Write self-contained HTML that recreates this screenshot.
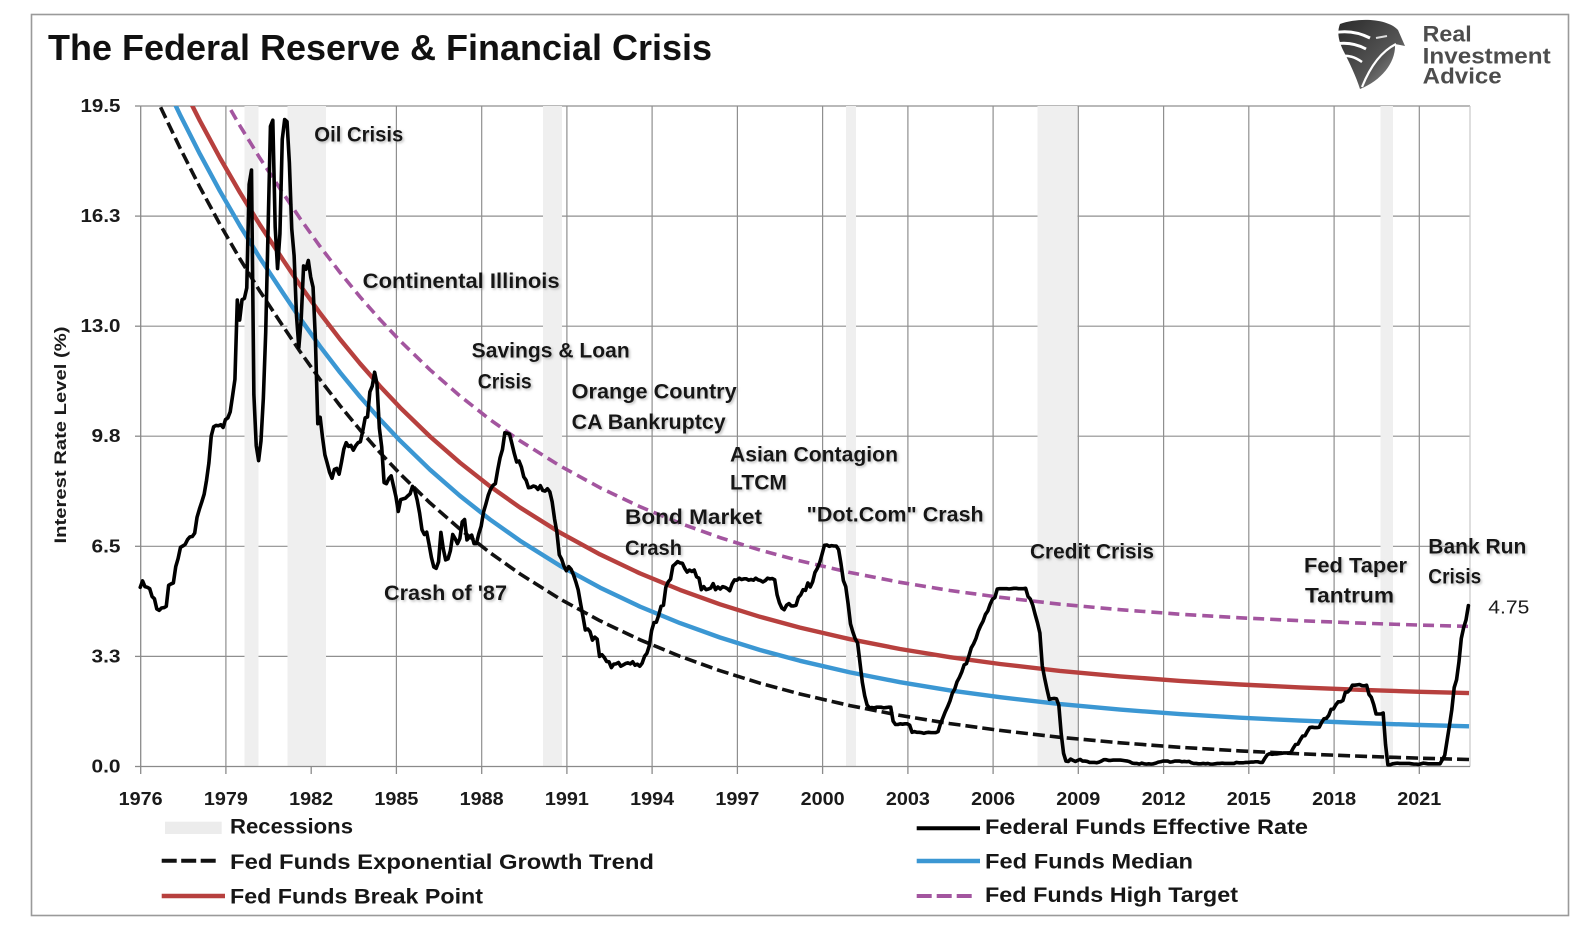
<!DOCTYPE html>
<html>
<head>
<meta charset="utf-8">
<style>
  html,body{margin:0;padding:0;background:#fff;}
  svg{display:block;}
  text{font-family:"Liberation Sans", Arial, sans-serif;}
  .ann{font-size:21px;font-weight:bold;fill:#161616;}
  .leg{font-size:21px;font-weight:bold;fill:#161616;}
  .yl{font-size:18px;font-weight:bold;fill:#1a1a1a;}
  .xl{font-size:18px;font-weight:bold;fill:#1a1a1a;}
</style>
</head>
<body>
<svg width="1588" height="940" viewBox="0 0 1588 940" xmlns="http://www.w3.org/2000/svg">
  <defs>
    <clipPath id="pc"><rect x="140.7" y="106" width="1329.3" height="660.5"/></clipPath>
    <path id="cv" d="M140,60.6 L160,106 L180,147.9 L200,187.4 L220,224.4 L240,259 L260,291.4 L283,326.2 L300,351.5 L320,379.5 L340,405.6 L360,429.9 L380,452.6 L400,473.8 L430,502.9 L460,529.1 L490,552.7 L520,573.9 L560,599 L600,620.8 L640,639.8 L680,656.3 L720,670.7 L760,683.2 L800,694 L850,705.6 L900,715.4 L950,723.6 L1000,730.4 L1060,737.3 L1120,742.8 L1180,747.3 L1240,750.9 L1300,753.8 L1360,756.2 L1420,758.2 L1469,759.5"/>
    <filter id="sh" x="-5%" y="-30%" width="112%" height="170%">
      <feGaussianBlur in="SourceAlpha" stdDeviation="1.3"/>
      <feOffset dx="1.5" dy="1.5" result="b"/>
      <feFlood flood-color="#8a8a8a" flood-opacity="0.55"/>
      <feComposite in2="b" operator="in"/>
      <feMerge><feMergeNode/><feMergeNode in="SourceGraphic"/></feMerge>
    </filter>
    <linearGradient id="lg" x1="0" y1="0" x2="1" y2="1">
      <stop offset="0" stop-color="#2a2a2a"/>
      <stop offset="0.6" stop-color="#555"/>
      <stop offset="1" stop-color="#a0a0a0"/>
    </linearGradient>
  </defs>

  <!-- frame -->
  <rect x="31.5" y="14.5" width="1537" height="901" fill="#fff" stroke="#9a9a9a" stroke-width="1.6"/>

  <!-- title -->
  <text x="48" y="60" font-size="36" font-weight="bold" fill="#111" textLength="664" lengthAdjust="spacingAndGlyphs">The Federal Reserve &amp; Financial Crisis</text>

  <!-- logo -->
  <g>
    <path d="M1340,24 C1360,17 1388,19 1398,30 L1405,46 L1395,44 C1396,62 1382,80 1360,89 C1356,76 1349,62 1344,52 C1340,44 1336,34 1340,24 Z" fill="url(#lg)"/>
    <path d="M1333,33 C1347,30 1360,33 1370,38" stroke="#fff" stroke-width="3" fill="none"/>
    <path d="M1335,44 C1347,42 1357,44 1366,49" stroke="#fff" stroke-width="3" fill="none"/>
    <path d="M1339,56 C1349,55 1355,57 1362,62" stroke="#fff" stroke-width="2.5" fill="none"/>
    <path d="M1396,44 C1384,50 1372,62 1362,87" stroke="#fff" stroke-width="2.2" fill="none"/>
    <path d="M1376,38 L1387,36" stroke="#ddd" stroke-width="2" fill="none"/>
    <text x="1422.7" y="41.7" font-size="22" font-weight="bold" fill="#4d4d4d" textLength="49" lengthAdjust="spacingAndGlyphs">Real</text>
    <text x="1422.7" y="63.3" font-size="22" font-weight="bold" fill="#4d4d4d" textLength="128" lengthAdjust="spacingAndGlyphs">Investment</text>
    <text x="1422.7" y="83.3" font-size="22" font-weight="bold" fill="#4d4d4d" textLength="79" lengthAdjust="spacingAndGlyphs">Advice</text>
  </g>

  <!-- gridlines -->
  <g stroke="#8f8f8f" stroke-width="1.2">
    <line x1="140.7" y1="106" x2="1470" y2="106"/>
    <line x1="140.7" y1="216.1" x2="1470" y2="216.1"/>
    <line x1="140.7" y1="326.2" x2="1470" y2="326.2"/>
    <line x1="140.7" y1="436.2" x2="1470" y2="436.2"/>
    <line x1="140.7" y1="546.3" x2="1470" y2="546.3"/>
    <line x1="140.7" y1="656.4" x2="1470" y2="656.4"/>
    <line x1="225.9" y1="106" x2="225.9" y2="766.5"/>
    <line x1="311.2" y1="106" x2="311.2" y2="766.5"/>
    <line x1="396.4" y1="106" x2="396.4" y2="766.5"/>
    <line x1="481.7" y1="106" x2="481.7" y2="766.5"/>
    <line x1="566.9" y1="106" x2="566.9" y2="766.5"/>
    <line x1="652.1" y1="106" x2="652.1" y2="766.5"/>
    <line x1="737.4" y1="106" x2="737.4" y2="766.5"/>
    <line x1="822.6" y1="106" x2="822.6" y2="766.5"/>
    <line x1="907.9" y1="106" x2="907.9" y2="766.5"/>
    <line x1="993.1" y1="106" x2="993.1" y2="766.5"/>
    <line x1="1078.3" y1="106" x2="1078.3" y2="766.5"/>
    <line x1="1163.6" y1="106" x2="1163.6" y2="766.5"/>
    <line x1="1248.8" y1="106" x2="1248.8" y2="766.5"/>
    <line x1="1334.1" y1="106" x2="1334.1" y2="766.5"/>
    <line x1="1419.3" y1="106" x2="1419.3" y2="766.5"/>
    <line x1="1470" y1="106" x2="1470" y2="766.5" stroke="#c8c8c8"/>
  </g>

  <!-- recessions -->
  <g fill="#efefef">
    <rect x="244.5" y="106" width="14" height="660.5"/>
    <rect x="287.5" y="106" width="38.5" height="660.5"/>
    <rect x="543" y="106" width="19" height="660.5"/>
    <rect x="846" y="106" width="10" height="660.5"/>
    <rect x="1037.5" y="106" width="40" height="660.5"/>
    <rect x="1380.5" y="106" width="12.5" height="660.5"/>
  </g>

  <!-- axes -->
  <g stroke="#8a8a8a" stroke-width="1.3">
    <line x1="140.7" y1="106" x2="140.7" y2="766.5"/>
    <line x1="140.7" y1="766.5" x2="1470" y2="766.5"/>
    <line x1="135" y1="106" x2="140.7" y2="106"/>
    <line x1="135" y1="216.1" x2="140.7" y2="216.1"/>
    <line x1="135" y1="326.2" x2="140.7" y2="326.2"/>
    <line x1="135" y1="436.2" x2="140.7" y2="436.2"/>
    <line x1="135" y1="546.3" x2="140.7" y2="546.3"/>
    <line x1="135" y1="656.4" x2="140.7" y2="656.4"/>
    <line x1="135" y1="766.5" x2="140.7" y2="766.5"/>
    <line x1="140.7" y1="766.5" x2="140.7" y2="774"/>
    <line x1="225.9" y1="766.5" x2="225.9" y2="774"/>
    <line x1="311.2" y1="766.5" x2="311.2" y2="774"/>
    <line x1="396.4" y1="766.5" x2="396.4" y2="774"/>
    <line x1="481.7" y1="766.5" x2="481.7" y2="774"/>
    <line x1="566.9" y1="766.5" x2="566.9" y2="774"/>
    <line x1="652.1" y1="766.5" x2="652.1" y2="774"/>
    <line x1="737.4" y1="766.5" x2="737.4" y2="774"/>
    <line x1="822.6" y1="766.5" x2="822.6" y2="774"/>
    <line x1="907.9" y1="766.5" x2="907.9" y2="774"/>
    <line x1="993.1" y1="766.5" x2="993.1" y2="774"/>
    <line x1="1078.3" y1="766.5" x2="1078.3" y2="774"/>
    <line x1="1163.6" y1="766.5" x2="1163.6" y2="774"/>
    <line x1="1248.8" y1="766.5" x2="1248.8" y2="774"/>
    <line x1="1334.1" y1="766.5" x2="1334.1" y2="774"/>
    <line x1="1419.3" y1="766.5" x2="1419.3" y2="774"/>
  </g>

  <!-- y labels -->
  <g class="yl" text-anchor="end">
    <text x="120.5" y="112" textLength="40" lengthAdjust="spacingAndGlyphs">19.5</text>
    <text x="120.5" y="222.1" textLength="40" lengthAdjust="spacingAndGlyphs">16.3</text>
    <text x="120.5" y="332.2" textLength="40" lengthAdjust="spacingAndGlyphs">13.0</text>
    <text x="120.5" y="442.2" textLength="29" lengthAdjust="spacingAndGlyphs">9.8</text>
    <text x="120.5" y="552.3" textLength="29" lengthAdjust="spacingAndGlyphs">6.5</text>
    <text x="120.5" y="662.4" textLength="29" lengthAdjust="spacingAndGlyphs">3.3</text>
    <text x="120.5" y="772.5" textLength="29" lengthAdjust="spacingAndGlyphs">0.0</text>
  </g>
  <text transform="translate(66,435) rotate(-90)" text-anchor="middle" font-size="17" font-weight="bold" fill="#1a1a1a" textLength="217" lengthAdjust="spacingAndGlyphs">Interest Rate Level (%)</text>

  <!-- x labels -->
  <g class="xl" text-anchor="middle">
    <text x="140.7" y="805" textLength="44" lengthAdjust="spacingAndGlyphs">1976</text>
    <text x="225.9" y="805" textLength="44" lengthAdjust="spacingAndGlyphs">1979</text>
    <text x="311.2" y="805" textLength="44" lengthAdjust="spacingAndGlyphs">1982</text>
    <text x="396.4" y="805" textLength="44" lengthAdjust="spacingAndGlyphs">1985</text>
    <text x="481.7" y="805" textLength="44" lengthAdjust="spacingAndGlyphs">1988</text>
    <text x="566.9" y="805" textLength="44" lengthAdjust="spacingAndGlyphs">1991</text>
    <text x="652.1" y="805" textLength="44" lengthAdjust="spacingAndGlyphs">1994</text>
    <text x="737.4" y="805" textLength="44" lengthAdjust="spacingAndGlyphs">1997</text>
    <text x="822.6" y="805" textLength="44" lengthAdjust="spacingAndGlyphs">2000</text>
    <text x="907.9" y="805" textLength="44" lengthAdjust="spacingAndGlyphs">2003</text>
    <text x="993.1" y="805" textLength="44" lengthAdjust="spacingAndGlyphs">2006</text>
    <text x="1078.3" y="805" textLength="44" lengthAdjust="spacingAndGlyphs">2009</text>
    <text x="1163.6" y="805" textLength="44" lengthAdjust="spacingAndGlyphs">2012</text>
    <text x="1248.8" y="805" textLength="44" lengthAdjust="spacingAndGlyphs">2015</text>
    <text x="1334.1" y="805" textLength="44" lengthAdjust="spacingAndGlyphs">2018</text>
    <text x="1419.3" y="805" textLength="44" lengthAdjust="spacingAndGlyphs">2021</text>
  </g>

  <!-- trend curves -->
  <g clip-path="url(#pc)" fill="none" stroke-linejoin="round">
    <use href="#cv" stroke="#111" stroke-width="3.6" stroke-dasharray="12,5"/>
    <use href="#cv" stroke="#3b97d3" stroke-width="4.4" transform="translate(0,-33.2)"/>
    <use href="#cv" stroke="#b7403e" stroke-width="4.4" transform="translate(0,-66.4)"/>
    <use href="#cv" stroke="#a3559f" stroke-width="3.6" stroke-dasharray="11,6" transform="translate(0,-133.1)"/>
  </g>

  <!-- Fed funds effective rate -->
  <polyline fill="none" stroke="#000" stroke-width="3.6" stroke-linejoin="round" stroke-linecap="round" vector-effect="non-scaling-stroke" transform="translate(130.76,766.5) scale(2.3675,-33.872)" points="4,5.29 5,5.48 6,5.31 7,5.29 8,5.25 9,5.02 10,4.95 11,4.65 12,4.61 13,4.68 14,4.69 15,4.73 16,5.35 17,5.39 18,5.42 19,5.90 20,6.14 21,6.47 22,6.51 23,6.56 24,6.70 25,6.78 26,6.79 27,6.89 28,7.36 29,7.60 30,7.81 31,8.04 32,8.45 33,8.96 34,9.76 35,10.03 36,10.07 37,10.06 38,10.09 39,10.01 40,10.24 41,10.29 42,10.47 43,10.94 44,11.43 45,13.77 46,13.18 47,13.78 48,13.82 49,14.13 50,17.19 51,17.61 52,10.98 53,9.47 54,9.03 55,9.61 56,10.87 57,12.81 58,15.85 59,18.90 60,19.08 61,15.93 62,14.70 63,15.72 64,18.52 65,19.10 66,19.04 67,17.82 68,15.87 69,15.08 70,13.31 71,12.37 72,13.22 73,14.78 74,14.68 75,14.94 76,14.45 77,14.15 78,12.59 79,10.12 80,10.31 81,9.71 82,9.20 83,8.95 84,8.68 85,8.51 86,8.77 87,8.80 88,8.63 89,8.98 90,9.37 91,9.56 92,9.45 93,9.48 94,9.34 95,9.47 96,9.56 97,9.59 98,9.91 99,10.29 100,10.32 101,11.06 102,11.23 103,11.64 104,11.30 105,9.99 106,9.43 107,8.38 108,8.35 109,8.50 110,8.58 111,8.27 112,7.97 113,7.53 114,7.88 115,7.90 116,7.92 117,7.99 118,8.05 119,8.27 120,8.14 121,7.86 122,7.48 123,6.99 124,6.85 125,6.92 126,6.56 127,6.17 128,5.89 129,5.85 130,6.04 131,6.91 132,6.43 133,6.10 134,6.13 135,6.37 136,6.85 137,6.73 138,6.58 139,6.73 140,7.22 141,7.29 142,6.69 143,6.77 144,6.83 145,6.58 146,6.58 147,6.87 148,7.09 149,7.51 150,7.75 151,8.01 152,8.19 153,8.30 154,8.35 155,8.76 156,9.12 157,9.36 158,9.85 159,9.84 160,9.81 161,9.53 162,9.24 163,8.99 164,9.02 165,8.84 166,8.55 167,8.45 168,8.23 169,8.24 170,8.28 171,8.26 172,8.18 173,8.29 174,8.15 175,8.13 176,8.20 177,8.11 178,7.81 179,7.31 180,6.91 181,6.25 182,6.12 183,5.91 184,5.78 185,5.90 186,5.82 187,5.66 188,5.45 189,5.21 190,4.81 191,4.43 192,4.03 193,4.06 194,3.98 195,3.73 196,3.82 197,3.76 198,3.25 199,3.30 200,3.22 201,3.10 202,3.09 203,2.92 204,3.02 205,3.03 206,3.07 207,2.96 208,3.00 209,3.04 210,3.06 211,3.03 212,3.09 213,2.99 214,3.02 215,2.96 216,3.05 217,3.25 218,3.34 219,3.56 220,4.01 221,4.25 222,4.26 223,4.47 224,4.73 225,4.76 226,5.29 227,5.45 228,5.53 229,5.92 230,5.98 231,6.05 232,6.01 233,6.00 234,5.85 235,5.74 236,5.80 237,5.76 238,5.80 239,5.60 240,5.56 241,5.22 242,5.31 243,5.22 244,5.24 245,5.27 246,5.40 247,5.22 248,5.30 249,5.24 250,5.31 251,5.29 252,5.25 253,5.19 254,5.39 255,5.51 256,5.50 257,5.56 258,5.52 259,5.54 260,5.54 261,5.50 262,5.52 263,5.50 264,5.56 265,5.51 266,5.49 267,5.45 268,5.49 269,5.56 270,5.54 271,5.55 272,5.51 273,5.07 274,4.83 275,4.68 276,4.63 277,4.76 278,4.81 279,4.74 280,4.74 281,4.76 282,4.99 283,5.07 284,5.22 285,5.20 286,5.42 287,5.30 288,5.45 289,5.73 290,5.85 291,6.02 292,6.27 293,6.53 294,6.54 295,6.50 296,6.52 297,6.51 298,6.51 299,6.40 300,5.98 301,5.49 302,5.31 303,4.80 304,4.21 305,3.97 306,3.77 307,3.65 308,3.07 309,2.49 310,2.09 311,1.82 312,1.73 313,1.74 314,1.73 315,1.75 316,1.75 317,1.75 318,1.73 319,1.74 320,1.75 321,1.75 322,1.34 323,1.24 324,1.24 325,1.26 326,1.25 327,1.26 328,1.26 329,1.22 330,1.01 331,1.03 332,1.01 333,1.01 334,1.00 335,0.98 336,1.00 337,1.01 338,1.00 339,1.00 340,1.00 341,1.03 342,1.26 343,1.43 344,1.61 345,1.76 346,1.93 347,2.16 348,2.28 349,2.50 350,2.63 351,2.79 352,3.00 353,3.04 354,3.26 355,3.50 356,3.62 357,3.78 358,4.00 359,4.16 360,4.29 361,4.49 362,4.59 363,4.79 364,4.94 365,4.99 366,5.24 367,5.25 368,5.25 369,5.25 370,5.25 371,5.24 372,5.25 373,5.26 374,5.26 375,5.25 376,5.25 377,5.25 378,5.26 379,5.02 380,4.94 381,4.76 382,4.49 383,4.24 384,3.94 385,2.98 386,2.61 387,2.28 388,1.98 389,2.00 390,2.01 391,2.00 392,1.81 393,0.97 394,0.39 395,0.16 396,0.15 397,0.22 398,0.18 399,0.15 400,0.18 401,0.21 402,0.16 403,0.16 404,0.15 405,0.12 406,0.12 407,0.12 408,0.11 409,0.13 410,0.16 411,0.20 412,0.20 413,0.18 414,0.18 415,0.19 416,0.19 417,0.19 418,0.19 419,0.18 420,0.17 421,0.16 422,0.14 423,0.10 424,0.09 425,0.09 426,0.07 427,0.10 428,0.08 429,0.07 430,0.08 431,0.07 432,0.08 433,0.10 434,0.13 435,0.14 436,0.16 437,0.16 438,0.16 439,0.13 440,0.14 441,0.16 442,0.16 443,0.16 444,0.14 445,0.15 446,0.14 447,0.15 448,0.11 449,0.09 450,0.09 451,0.08 452,0.08 453,0.09 454,0.08 455,0.09 456,0.07 457,0.07 458,0.08 459,0.09 460,0.09 461,0.10 462,0.09 463,0.09 464,0.09 465,0.09 466,0.09 467,0.12 468,0.11 469,0.11 470,0.11 471,0.12 472,0.12 473,0.13 474,0.13 475,0.14 476,0.14 477,0.12 478,0.12 479,0.24 480,0.34 481,0.38 482,0.36 483,0.37 484,0.37 485,0.38 486,0.39 487,0.40 488,0.40 489,0.40 490,0.41 491,0.54 492,0.65 493,0.66 494,0.79 495,0.90 496,0.91 497,1.04 498,1.15 499,1.16 500,1.15 501,1.15 502,1.16 503,1.30 504,1.41 505,1.42 506,1.51 507,1.69 508,1.70 509,1.82 510,1.91 511,1.91 512,1.95 513,2.19 514,2.20 515,2.27 516,2.40 517,2.40 518,2.41 519,2.42 520,2.39 521,2.38 522,2.40 523,2.13 524,2.04 525,1.83 526,1.55 527,1.55 528,1.55 529,1.58 530,0.65 531,0.05 532,0.05 533,0.08 534,0.09 535,0.10 536,0.09 537,0.09 538,0.09 539,0.09 540,0.09 541,0.08 542,0.07 543,0.07 544,0.06 545,0.08 546,0.10 547,0.09 548,0.08 549,0.08 550,0.08 551,0.08 552,0.08 553,0.08 554,0.20 555,0.33 556,0.77 557,1.21 558,1.68 559,2.33 560,2.56 561,3.08 562,3.78 563,4.10 564,4.33 565,4.75"/>

  <!-- annotations -->
  <g class="ann" filter="url(#sh)">
    <text x="314.3" y="141.7" textLength="89" lengthAdjust="spacingAndGlyphs">Oil Crisis</text>
    <text x="362.7" y="288" textLength="197" lengthAdjust="spacingAndGlyphs">Continental Illinois</text>
    <text x="471.7" y="357.3" textLength="158" lengthAdjust="spacingAndGlyphs">Savings &amp; Loan</text>
    <text x="477.7" y="388.3" textLength="54" lengthAdjust="spacingAndGlyphs">Crisis</text>
    <text x="571.7" y="398.3" textLength="165" lengthAdjust="spacingAndGlyphs">Orange Country</text>
    <text x="571.7" y="429" textLength="154" lengthAdjust="spacingAndGlyphs">CA Bankruptcy</text>
    <text x="730" y="461.7" textLength="168" lengthAdjust="spacingAndGlyphs">Asian Contagion</text>
    <text x="730" y="489.3" textLength="57" lengthAdjust="spacingAndGlyphs">LTCM</text>
    <text x="625" y="524" textLength="137" lengthAdjust="spacingAndGlyphs">Bond Market</text>
    <text x="625" y="555" textLength="57" lengthAdjust="spacingAndGlyphs">Crash</text>
    <text x="806.7" y="521.7" textLength="177" lengthAdjust="spacingAndGlyphs">"Dot.Com" Crash</text>
    <text x="384" y="600" textLength="123" lengthAdjust="spacingAndGlyphs">Crash of '87</text>
    <text x="1030" y="558.3" textLength="124" lengthAdjust="spacingAndGlyphs">Credit Crisis</text>
    <text x="1304" y="572.7" textLength="103" lengthAdjust="spacingAndGlyphs">Fed Taper</text>
    <text x="1305" y="602.7" textLength="89" lengthAdjust="spacingAndGlyphs">Tantrum</text>
    <text x="1428.3" y="553.3" textLength="98" lengthAdjust="spacingAndGlyphs">Bank Run</text>
    <text x="1428.3" y="583.3" textLength="53" lengthAdjust="spacingAndGlyphs">Crisis</text>
  </g>
  <text x="1488.3" y="613.3" font-size="18" fill="#1a1a1a" textLength="41" lengthAdjust="spacingAndGlyphs">4.75</text>

  <!-- legend -->
  <rect x="165" y="821.7" width="56.7" height="12.3" fill="#ececec"/>
  <line x1="161.7" y1="860.7" x2="220" y2="860.7" stroke="#111" stroke-width="4" stroke-dasharray="15,4.5"/>
  <line x1="161.7" y1="896" x2="225" y2="896" stroke="#b7403e" stroke-width="4.5"/>
  <line x1="916.7" y1="828.3" x2="980" y2="828.3" stroke="#000" stroke-width="4"/>
  <line x1="916.7" y1="861" x2="980" y2="861" stroke="#3b97d3" stroke-width="4.5"/>
  <line x1="916.7" y1="896" x2="975" y2="896" stroke="#a3559f" stroke-width="4" stroke-dasharray="15,5"/>
  <g class="leg">
    <text x="230" y="833.3" textLength="123" lengthAdjust="spacingAndGlyphs">Recessions</text>
    <text x="230" y="869" textLength="424" lengthAdjust="spacingAndGlyphs">Fed Funds Exponential Growth Trend</text>
    <text x="230" y="903.3" textLength="253" lengthAdjust="spacingAndGlyphs">Fed Funds Break Point</text>
    <text x="985" y="834" textLength="323" lengthAdjust="spacingAndGlyphs">Federal Funds Effective Rate</text>
    <text x="985" y="868.3" textLength="208" lengthAdjust="spacingAndGlyphs">Fed Funds Median</text>
    <text x="985" y="902" textLength="253" lengthAdjust="spacingAndGlyphs">Fed Funds High Target</text>
  </g>
</svg>
</body>
</html>
